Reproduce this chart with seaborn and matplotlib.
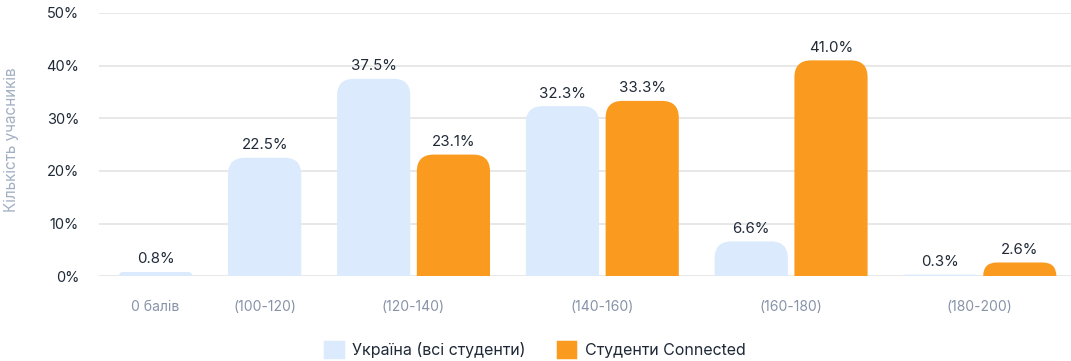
import numpy as np
import pandas as pd
import matplotlib
matplotlib.use('Agg')
import matplotlib.pyplot as plt
import seaborn as sns
from matplotlib.patches import FancyBboxPatch, Patch

# дані з графіка
categories = ['0 балів', '(100-120)', '(120-140)', '(140-160)', '(160-180)', '(180-200)']
ukraine = [0.8, 22.5, 37.5, 32.3, 6.6, 0.3]
connected = [None, None, 23.1, 33.3, 41.0, 2.6]
series_names = ['Україна (всі студенти)', 'Студенти Connected']
colors = ['#DBEAFD', '#FA9B20']

sns.set_theme(style='white')
plt.rcParams['font.family'] = ['Inter', 'DejaVu Sans']

# позиції стовпців: групи з різною кількістю стовпців
inner_gap = 0.09
group_gap = 0.49
rows, centers = [], []
pos = 0.0
for i, cat in enumerate(categories):
    vals = [(series_names[0], ukraine[i]), (series_names[1], connected[i])]
    vals = [v for v in vals if v[1] is not None]
    start = pos
    for j, (name, v) in enumerate(vals):
        rows.append({'pos': pos, 'value': v, 'series': name})
        pos += 1 + (inner_gap if j < len(vals) - 1 else 0)
    centers.append((start + pos) / 2 - 0.5)
    pos += group_gap
df = pd.DataFrame(rows)

fig = plt.figure(figsize=(10.71, 3.61), dpi=100)
ax = fig.add_axes([0.092, 0.235, 0.908, 0.729])

sns.barplot(data=df, x='pos', y='value', hue='series', hue_order=series_names,
            palette=colors, saturation=1, native_scale=True, dodge=False,
            width=1 / (1 + inner_gap), errorbar=None, legend=False, ax=ax)

ax.set_ylim(0, 50)
ax.set_xlim(-0.78, pos - group_gap - 0.5 + 0.2)

# заокруглені верхні кути
r_x, aspect = 0.23, 13.9
for p in list(ax.patches):
    x, w, h = p.get_x(), p.get_width(), p.get_height()
    fc = p.get_facecolor()
    p.remove()
    r = r_x * min(1.0, h / (r_x * aspect))
    box = FancyBboxPatch((x, -r * aspect), w, h + r * aspect,
                         boxstyle=f'round,pad=0,rounding_size={r}',
                         mutation_aspect=aspect, fc=fc, ec='none', zorder=2)
    ax.add_patch(box)
    ax.annotate(f'{h:.1f}%', (x + w / 2, h), xytext=(0, 4), textcoords='offset points',
                ha='center', va='bottom', fontsize=10.8, color='#1F2937')

ax.set_yticks(range(0, 51, 10))
ax.set_yticklabels([f'{t}%' for t in range(0, 51, 10)], fontsize=10.5, color='#1F2937')
ax.set_xticks(centers)
ax.set_xticklabels(categories, fontsize=10, color='#8793A8')
ax.tick_params(axis='x', length=0, pad=17)
ax.tick_params(axis='y', length=0, pad=14)
ax.grid(axis='y', color='#E4E4E4', linewidth=1.2, zorder=0)
ax.set_axisbelow(True)
sns.despine(ax=ax, left=True, bottom=True)
ax.set_xlabel('')
ax.set_ylabel('Кількість учасників', fontsize=11, color='#A3B0C2')
ax.yaxis.set_label_coords(-0.082, 0.52)

handles = [Patch(facecolor=c, edgecolor=c, linewidth=2.5, joinstyle='round') for c in colors]
fig.legend(handles, series_names, loc='center', bbox_to_anchor=(0.5, 0.03), ncol=2,
           frameon=False, fontsize=11.5, handlelength=1.1, handleheight=1.1,
           columnspacing=2.0, handletextpad=0.6, labelcolor='#1F2937')

fig.savefig('out.png', dpi=100)
